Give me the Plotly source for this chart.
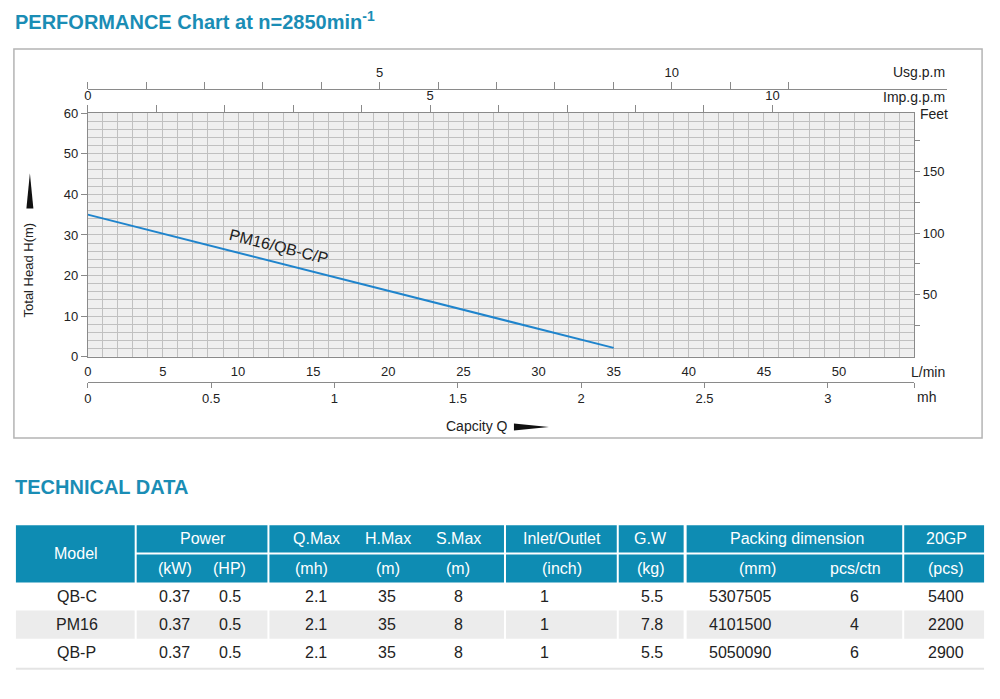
import plotly.graph_objects as go

W, H = 1000, 699
# empirical correction for how the page is photographed (target pixel -> figure pixel)
SX, OX = 0.9959, 4.06
SY, OY = 0.9757, 8.2


def px(x):
    return ((x - OX) / SX) / W


def py(y):
    return 1 - ((y - OY) / SY) / H


# ---------------- chart data ----------------
flow_lpm = [0, 35]
head_m = [35, 2.2]
curve_name = "PM16/QB-C/P"

lpm_ticks = [0, 5, 10, 15, 20, 25, 30, 35, 40, 45, 50]
mh_ticks = [0, 0.5, 1, 1.5, 2, 2.5, 3]
mh_labels = ["0", "0.5", "1", "1.5", "2", "2.5", "3"]
imp_ticks = [0, 1, 2, 3, 4, 5, 6, 7, 8, 9, 10]
imp_labels = ["0", " ", " ", " ", " ", "5", " ", " ", " ", " ", "10"]
usg_ticks = [0, 1, 2, 3, 4, 5, 6, 7, 8, 9, 10, 11, 12]
usg_labels = [" ", " ", " ", " ", " ", "5", " ", " ", " ", " ", "10", " ", " "]
head_ticks = [0, 10, 20, 30, 40, 50, 60]
feet_ticks = [25, 50, 75, 100, 125, 150, 175]
feet_labels = [" ", "50", " ", "100", " ", "150", " "]

# ---------------- table data ----------------
models = ["QB-C", "PM16", "QB-P"]
power_kw = ["0.37", "0.37", "0.37"]
power_hp = ["0.5", "0.5", "0.5"]
q_max = ["2.1", "2.1", "2.1"]
h_max = ["35", "35", "35"]
s_max = ["8", "8", "8"]
inlet_outlet = ["1", "1", "1"]
gross_weight = ["5.5", "7.8", "5.5"]
packing_mm = ["5307505", "4101500", "5050090"]
pcs_ctn = ["6", "4", "6"]
gp20 = ["5400", "2200", "2900"]

header_top = ["Model", "Power", "Q.Max", "H.Max", "S.Max", "Inlet/Outlet", "G.W",
              "Packing dimension", "20GP"]
header_sub = ["(kW)", "(HP)", "(mh)", "(m)", "(m)", "(inch)", "(kg)", "(mm)", "pcs/ctn", "(pcs)"]

FONT = "Liberation Sans, Arial, sans-serif"
TEAL = "#0e8cb3"
TITLE_C = "#1a8db5"
TXT = "#222222"
GRID = "#c0c0c0"
AXL = "#8a8a8a"

# plot geometry (target pixels)
X0, X1 = 88, 916
Y_TOP, Y_BOT = 114, 357

fig = go.Figure()

fig.add_trace(go.Scatter(x=flow_lpm, y=head_m, mode="lines",
                         line=dict(color="#1f84cc", width=2), showlegend=False,
                         hoverinfo="skip"))
# invisible anchor traces for the secondary axes
for xa, ya in (("x2", "y"), ("x3", "y3"), ("x4", "y"), ("x", "y2")):
    fig.add_trace(go.Scatter(x=[0], y=[0], xaxis=xa, yaxis=ya, mode="markers",
                             marker=dict(opacity=0), showlegend=False, hoverinfo="skip"))

tickfont = dict(family=FONT, size=13, color=TXT)

fig.update_layout(
    width=W, height=H, autosize=False,
    margin=dict(l=0, r=0, t=0, b=0),
    paper_bgcolor="white", plot_bgcolor="rgba(0,0,0,0)",
    showlegend=False,
    xaxis=dict(domain=[px(X0), px(X1)], range=[0, 55], anchor="y",
               tickvals=lpm_ticks, ticks="outside", ticklen=3,
               tickcolor="rgba(0,0,0,0)", tickfont=tickfont,
               showgrid=True, gridcolor=GRID, gridwidth=1,
               minor=dict(dtick=1, showgrid=True, gridcolor=GRID, gridwidth=1, ticks=""),
               showline=True, linecolor=AXL, linewidth=1, zeroline=False, fixedrange=True),
    yaxis=dict(domain=[py(Y_BOT), py(Y_TOP)], range=[0, 60], anchor="x",
               tickvals=head_ticks, ticks="outside", ticklen=6, tickcolor=AXL,
               tickfont=tickfont,
               showgrid=True, gridcolor=GRID, gridwidth=1,
               minor=dict(dtick=2, showgrid=True, gridcolor=GRID, gridwidth=1, ticks=""),
               showline=True, linecolor=AXL, linewidth=1, zeroline=False, fixedrange=True),
    xaxis2=dict(overlaying="x", side="top", anchor="y", range=[0, 828 / 68.6],
                tickvals=imp_ticks, ticktext=imp_labels, ticks="outside", ticklen=7,
                tickcolor=AXL, tickfont=tickfont, showgrid=False, zeroline=False,
                showline=True, linecolor=AXL, linewidth=1, fixedrange=True),
    xaxis3=dict(domain=[px(X0), px(949)], anchor="free", position=py(90), side="top",
                range=[0, 861 / 58.5],
                tickvals=usg_ticks, ticktext=usg_labels, ticks="outside", ticklen=7,
                tickcolor=AXL, tickfont=tickfont, showgrid=False, zeroline=False,
                showline=True, linecolor=AXL, linewidth=1, fixedrange=True),
    yaxis3=dict(domain=[py(91), py(90)], visible=False, range=[0, 1], fixedrange=True),
    xaxis4=dict(overlaying="x", anchor="free", position=py(382), side="bottom",
                range=[0, 3.35],
                tickvals=mh_ticks + [3.35], ticktext=mh_labels + [" "],
                ticks="outside", ticklen=5, tickcolor=AXL, tickfont=tickfont,
                showgrid=False, zeroline=False,
                showline=True, linecolor=AXL, linewidth=1, fixedrange=True),
    yaxis2=dict(overlaying="y", side="right", anchor="x", range=[0, 60 / 0.3048],
                tickvals=feet_ticks, ticktext=feet_labels, ticks="outside", ticklen=5,
                tickcolor=AXL, tickfont=tickfont, showgrid=False, zeroline=False,
                showline=True, linecolor=AXL, linewidth=1, fixedrange=True),
)

shapes = []
annotations = []

# chart frame
shapes.append(dict(type="rect", xref="paper", yref="paper",
                   x0=px(14), x1=px(984), y0=py(438), y1=py(50),
                   line=dict(color="#b4b4b4", width=1.5), fillcolor="rgba(0,0,0,0)",
                   layer="below"))
# plot background
shapes.append(dict(type="rect", xref="x domain", yref="y domain", x0=0, x1=1, y0=0, y1=1,
                   fillcolor="#efefef", line=dict(width=0), layer="below"))

# arrows
shapes.append(dict(type="path", xref="paper", yref="paper",
                   path=f"M {px(30)} {py(174)} L {px(33.5)} {py(209)} L {px(26.5)} {py(209)} Z",
                   fillcolor="#111111", line=dict(width=0)))
shapes.append(dict(type="path", xref="paper", yref="paper",
                   path=f"M {px(515)} {py(423.5)} L {px(550)} {py(427)} L {px(515)} {py(430.5)} Z",
                   fillcolor="#111111", line=dict(width=0)))


def ann(text, x, y, size=13, color=TXT, xanchor="center", bold=False, textangle=0):
    annotations.append(dict(text=f"<b>{text}</b>" if bold else text,
                            x=px(x), y=py(y), xref="paper", yref="paper",
                            xanchor=xanchor, yanchor="middle", showarrow=False,
                            textangle=textangle,
                            font=dict(family=FONT, size=size, color=color)))


# titles
ann("PERFORMANCE Chart at n=2850min<sup>-1</sup>", 13, 22, size=20, color=TITLE_C,
    xanchor="left", bold=True)
ann("TECHNICAL DATA", 13, 487, size=20, color=TITLE_C, xanchor="left", bold=True)

# axis unit labels
ann("Usg.p.m", 949, 73, size=14, xanchor="right")
ann("Imp.g.p.m", 949, 98, size=14, xanchor="right")
ann("Feet", 920, 115, size=14, xanchor="left")
ann("L/min", 911, 372, size=14, xanchor="left")
ann("mh", 917, 397, size=14, xanchor="left")
ann("Total Head H(m)", 29, 270, size=13, textangle=-90)
ann("Capcity Q", 478, 426, size=14)

# curve label
annotations.append(dict(text=curve_name, x=12.7, y=27.2, xref="x", yref="y",
                        showarrow=False, textangle=14,
                        font=dict(family=FONT, size=16, color=TXT)))

# ---------------- table ----------------
groups = [(16, 135), (137, 268), (270, 505), (507, 618), (620, 685), (688, 904), (906, 986)]
R1 = (525, 552)
R2 = (554, 582)
for i, (a, b) in enumerate(groups):
    if i == 0:
        shapes.append(dict(type="rect", xref="paper", yref="paper", x0=px(a), x1=px(b),
                           y0=py(R2[1]), y1=py(R1[0]), fillcolor=TEAL, line=dict(width=0)))
    else:
        for r in (R1, R2):
            shapes.append(dict(type="rect", xref="paper", yref="paper", x0=px(a), x1=px(b),
                               y0=py(r[1]), y1=py(r[0]), fillcolor=TEAL, line=dict(width=0)))
    # gray band for 2nd data row
    shapes.append(dict(type="rect", xref="paper", yref="paper", x0=px(a), x1=px(b),
                       y0=py(638), y1=py(610), fillcolor="#ececec", line=dict(width=0)))
shapes.append(dict(type="line", xref="paper", yref="paper", x0=px(16), x1=px(986),
                   y0=py(668), y1=py(668), line=dict(color="#e4e4e4", width=2)))

top_x = [76, 203, 317, 389, 459, 563, 652, 799, 948]
top_y = [553, 538, 538, 538, 538, 538, 538, 538, 538]
for t, x, y in zip(header_top, top_x, top_y):
    ann(t, x, y, size=16, color="white")
sub_x = [175, 230, 312, 389, 459, 563, 652, 759, 857, 948]
for t, x in zip(header_sub, sub_x):
    ann(t, x, 568, size=16, color="white")

columns = [models, power_kw, power_hp, q_max, h_max, s_max, inlet_outlet,
           gross_weight, packing_mm, pcs_ctn, gp20]
col_x = [77, 175, 230, 317, 388, 459, 546, 653, 741, 856, 948]
row_y = [596, 624, 652]
for col, x in zip(columns, col_x):
    for v, y in zip(col, row_y):
        ann(v, x, y, size=16)

fig.update_layout(shapes=shapes, annotations=annotations)
fig.write_html("out.html")
